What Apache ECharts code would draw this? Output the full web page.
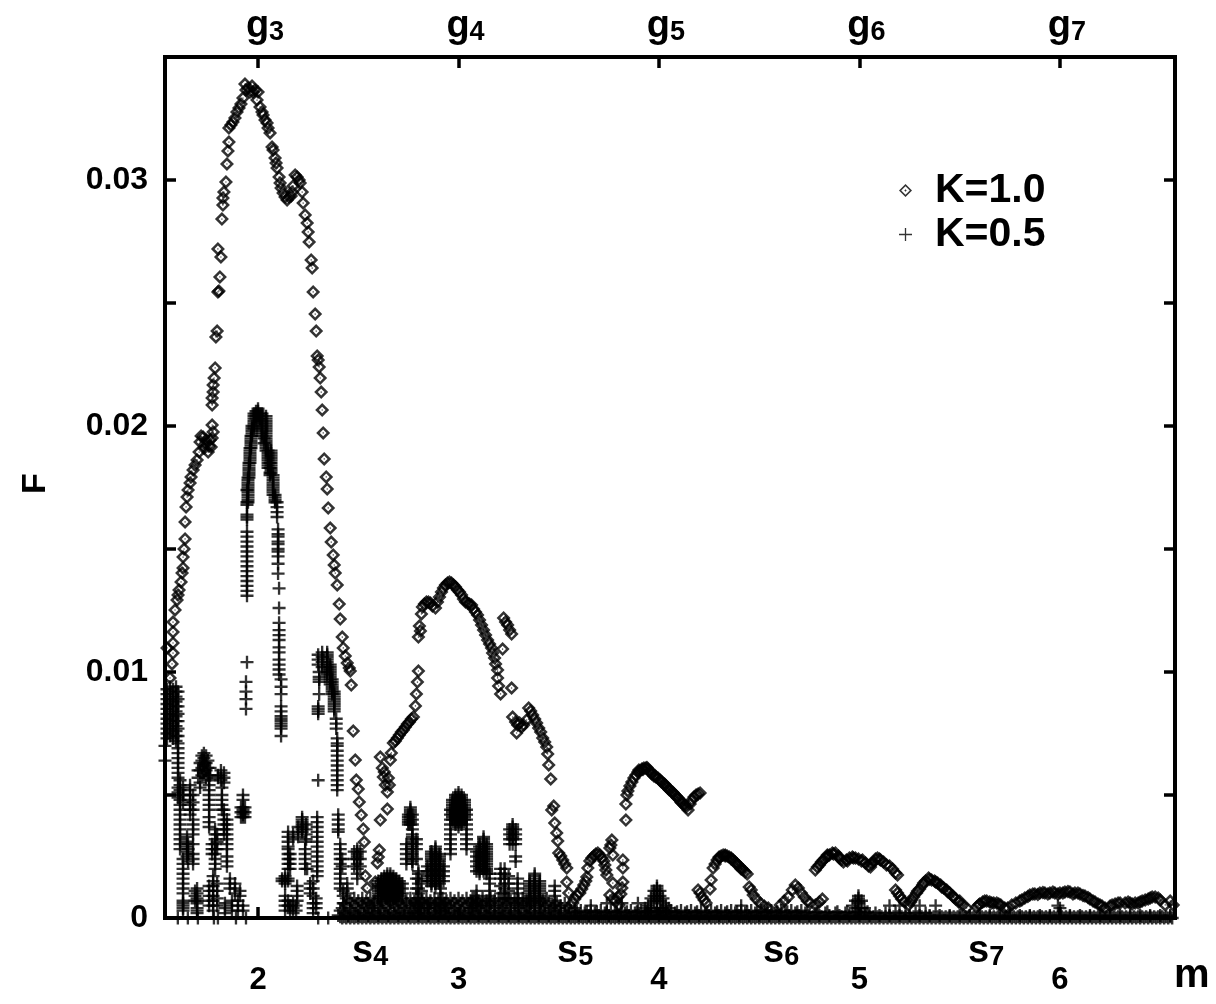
<!DOCTYPE html>
<html>
<head>
<meta charset="utf-8">
<script src="https://cdn.jsdelivr.net/npm/echarts@6/dist/echarts.min.js"></script>
<style>
  html, body { margin: 0; background: #fff; }
  #chart { width: 1216px; height: 1004px; }
</style>
</head>
<body>
<div id="chart"></div>
<script>
// tick positions
const mTicks = [2, 3, 4, 5, 6];
const gNames = ['3', '4', '5', '6', '7'];
const fMinorTicks = [0, 0.005, 0.01, 0.015, 0.02, 0.025, 0.03, 0.035];
const fLabels = [0, 0.01, 0.02, 0.03];

// K=1.0 as [m, F]
const diamondsPeak2 = [[1.546,.01098],[1.561,.00976],[1.571,.01033],[1.576,.01077],[1.576,.01118],[1.576,.01163],[1.576,.01203],[1.586,.01252],[1.596,.01293],[1.601,.01313],[1.606,.01333],[1.616,.01366],[1.621,.01402],[1.626,.01423],[1.626,.01467],[1.631,.015],[1.636,.01541],[1.636,.0161],[1.641,.01671],[1.646,.01711],[1.651,.0174],[1.661,.01768],[1.666,.01793],[1.676,.01821],[1.686,.01841],[1.696,.01862],[1.706,.01894],[1.711,.01935],[1.716,.01959],[1.726,.01955],[1.731,.0191],[1.736,.01927],[1.741,.01943],[1.751,.01894],[1.756,.01919],[1.761,.01943],[1.766,.01915],[1.771,.01951],[1.776,.01976],[1.771,.02004],[1.771,.02085],[1.771,.02114],[1.776,.02138],[1.776,.02167],[1.781,.02195],[1.786,.02236],[1.79,.02362],[1.796,.02386],[1.8,.02545],[1.805,.02549],[1.81,.02606],[1.815,.02687],[1.8,.0272],[1.82,.02841],[1.825,.02898],[1.825,.02927],[1.83,.02951],[1.84,.02992],[1.845,.03065],[1.85,.03118],[1.855,.03154],[1.855,.03211],[1.865,.03224],[1.875,.03236],[1.885,.03252],[1.895,.03276],[1.905,.03293],[1.915,.03309],[1.925,.03333],[1.935,.0339],[1.94,.03366],[1.95,.03374],[1.96,.03358],[1.97,.03382],[1.975,.03358],[1.985,.03366],[1.995,.03325],[2,.03358],[2.01,.03297],[2.02,.03276],[2.025,.03264],[2.035,.03244],[2.045,.03232],[2.05,.03211],[2.06,.03191],[2.07,.03134],[2.075,.03122],[2.085,.03089],[2.09,.03069],[2.095,.03049],[2.105,.03012],[2.11,.02988],[2.115,.02967],[2.125,.02947],[2.135,.02931],[2.145,.02919],[2.155,.02931],[2.165,.02935],[2.17,.02951],[2.175,.02976],[2.185,.0302],[2.195,.03012],[2.205,.03],[2.21,.02988],[2.22,.02951],[2.225,.02906],[2.235,.02858],[2.245,.02825],[2.25,.02789],[2.255,.02748],[2.265,.02675],[2.27,.02642],[2.275,.02545],[2.285,.02455],[2.29,.02386],[2.295,.02285],[2.3,.02268],[2.305,.0224],[2.31,.02195],[2.315,.02138],[2.32,.02065],[2.325,.01972],[2.33,.01866],[2.34,.01793],[2.345,.01744],[2.35,.01667],[2.36,.01585],[2.365,.01528],[2.375,.01476],[2.38,.01435],[2.385,.01402],[2.395,.01354],[2.405,.01276],[2.41,.01215],[2.42,.01142],[2.425,.01098],[2.435,.01065],[2.445,.01037],[2.455,.01016],[2.46,.01004],[2.465,.00947],[2.475,.0076],[2.485,.00642],[2.49,.00561],[2.5,.00524],[2.505,.00472],[2.515,.00419],[2.525,.00362],[2.53,.00309],[2.535,.00171],[2.545,.00122],[2.585,.00146]];
const diamondsPeak3 = [[2.61,.00398],[2.645,.00443],[2.605,.00276],[2.595,.00224],[2.6,.00248],[2.61,.00654],[2.62,.0061],[2.625,.00573],[2.635,.00541],[2.645,.00512],[2.63,.00593],[2.65,.00569],[2.655,.00541],[2.66,.00642],[2.665,.00671],[2.675,.00711],[2.685,.0072],[2.695,.00732],[2.705,.00744],[2.715,.00756],[2.725,.00764],[2.735,.00776],[2.745,.00789],[2.755,.00797],[2.765,.00809],[2.775,.00817],[2.785,.00862],[2.79,.00911],[2.795,.00959],[2.8,.01004],[2.8,.01142],[2.805,.01187],[2.81,.01167],[2.815,.01236],[2.82,.01264],[2.83,.01276],[2.84,.01285],[2.85,.01285],[2.86,.0128],[2.87,.01268],[2.885,.0126],[2.895,.01285],[2.905,.01305],[2.915,.01325],[2.925,.01341],[2.935,.01354],[2.945,.01362],[2.955,.01366],[2.965,.01362],[2.975,.01354],[2.985,.01346],[2.995,.01333],[3.005,.01325],[3.015,.01313],[3.025,.01297],[3.035,.01285],[3.045,.0128],[3.055,.01276],[3.065,.01272],[3.075,.01256],[3.085,.01244],[3.095,.01232],[3.105,.01211],[3.115,.01191],[3.125,.01171],[3.135,.0115],[3.145,.0113],[3.155,.01114],[3.165,.01098],[3.17,.01077],[3.18,.01057],[3.185,.01033],[3.195,.01008],[3.195,.00976],[3.2,.00943],[3.21,.00911],[3.22,.01093],[3.225,.0122],[3.235,.01203],[3.245,.01191],[3.255,.01171],[3.265,.01154],[3.265,.00935],[3.27,.00817],[3.29,.00752],[3.285,.00797],[3.295,.00785],[3.305,.00793],[3.315,.00776],[3.325,.00785],[3.34,.00805],[3.35,.00854],[3.36,.00841],[3.37,.00825],[3.38,.00809],[3.39,.00793],[3.4,.00772],[3.41,.00756],[3.42,.00732],[3.43,.00715],[3.44,.00695],[3.445,.00667],[3.45,.00622],[3.46,.00565],[3.475,.00455],[3.465,.00439],[3.48,.00386],[3.49,.00346],[3.495,.00313],[3.5,.00264],[3.51,.00252],[3.52,.00236],[3.53,.0022],[3.54,.00203],[3.54,.00146],[3.55,.00102]];
const diamondsPeak4 = [[3.57,.00061],[3.58,.00077],[3.59,.00093],[3.605,.00102],[3.615,.00118],[3.625,.00134],[3.635,.0015],[3.64,.00167],[3.645,.00203],[3.655,.00232],[3.665,.00244],[3.675,.00252],[3.685,.0026],[3.695,.00264],[3.705,.00256],[3.715,.00244],[3.725,.00232],[3.73,.00215],[3.735,.00195],[3.74,.00175],[3.765,.00317],[3.755,.00285],[3.76,.00297],[3.77,.00256],[3.77,.00142],[3.82,.00236],[3.82,.00203],[3.82,.00146],[3.815,.00122],[3.795,.00085],[3.755,.00093],[3.77,.00077],[3.785,.00069],[3.8,.00053],[3.81,.00098],[3.835,.00398],[3.835,.00463],[3.84,.005],[3.845,.00516],[3.855,.00537],[3.865,.00553],[3.875,.00569],[3.885,.00581],[3.895,.00593],[3.905,.00598],[3.915,.00606],[3.925,.0061],[3.935,.0061],[3.945,.00606],[3.955,.00598],[3.965,.00585],[3.975,.00577],[3.985,.00573],[3.995,.00569],[4.005,.00561],[4.015,.00553],[4.025,.00545],[4.035,.00537],[4.045,.00528],[4.055,.0052],[4.065,.00512],[4.075,.00504],[4.085,.00496],[4.095,.00488],[4.105,.0048],[4.115,.00467],[4.125,.00459],[4.135,.00451],[4.145,.00439],[4.155,.00463],[4.165,.0048],[4.175,.00492],[4.185,.005],[4.195,.00504],[4.205,.00508]];
const diamondsTail = [[4.195,.00114],[4.205,.00102],[4.215,.00085],[4.225,.00073],[4.235,.00061],[4.255,.00118],[4.26,.00154],[4.27,.00203],[4.28,.0022],[4.29,.00236],[4.3,.00244],[4.31,.00252],[4.32,.00256],[4.33,.00256],[4.34,.00252],[4.35,.00248],[4.36,.00244],[4.37,.00236],[4.38,.00228],[4.39,.0022],[4.4,.00211],[4.41,.00203],[4.42,.00195],[4.43,.00187],[4.44,.00179],[4.45,.00126],[4.46,.00114],[4.47,.00093],[4.485,.00077],[4.505,.00061],[4.525,.00049],[4.545,.00041],[4.605,.00053],[4.625,.00069],[4.645,.00085],[4.665,.00114],[4.68,.00134],[4.695,.00122],[4.71,.00102],[4.725,.00085],[4.74,.00069],[4.755,.00061],[4.78,.00053],[4.8,.00065],[4.815,.00077],[4.78,.00195],[4.79,.00207],[4.8,.00215],[4.81,.00228],[4.82,.00236],[4.83,.00244],[4.84,.00252],[4.85,.00256],[4.865,.00264],[4.88,.00264],[4.895,.00252],[4.91,.00236],[4.92,.00228],[4.935,.00236],[4.95,.00244],[4.965,.00248],[4.98,.00244],[4.995,.0024],[5.015,.00236],[5.03,.00224],[5.045,.00211],[5.055,.00207],[5.07,.00228],[5.08,.0024],[5.09,.00244],[5.105,.00236],[5.12,.00228],[5.135,.00215],[5.15,.00211],[5.165,.00199],[5.18,.00183],[5.19,.00175],[5.18,.00114],[5.19,.00102],[5.2,.00089],[5.21,.00077],[5.225,.00065],[5.245,.00053],[5.255,.00065],[5.27,.00085],[5.285,.00102],[5.3,.00118],[5.315,.00134],[5.33,.0015],[5.345,.00163],[5.36,.00154],[5.375,.0015],[5.39,.00142],[5.405,.00134],[5.42,.00122],[5.435,.00114],[5.45,.00102],[5.465,.00089],[5.48,.00077],[5.495,.00065],[5.515,.00053],[5.535,.00041],[5.585,.00045],[5.6,.00057],[5.615,.00065],[5.635,.00069],[5.65,.00065],[5.67,.00061],[5.685,.00061],[5.705,.00053],[5.725,.00041],[5.74,.00041],[5.76,.00053],[5.78,.00061],[5.8,.00069],[5.825,.00081],[5.85,.00093],[5.875,.00098],[5.9,.00102],[5.925,.00102],[5.95,.00102],[5.975,.00102],[6,.00102],[6.025,.00106],[6.05,.00106],[6.075,.00102],[6.1,.00098],[6.125,.00089],[6.15,.00077],[6.175,.00065],[6.2,.00053],[6.225,.00041],[6.25,.00049],[6.275,.00057],[6.3,.00061],[6.325,.00061],[6.35,.00061],[6.375,.00061],[6.4,.00065],[6.425,.00073],[6.45,.00081],[6.475,.00085],[6.5,.00073],[6.525,.00053],[6.55,.00069],[6.565,.00053]];
const diamondsBandFill = [[5.595,.00053],[5.625,.00069],[5.66,.00061],[5.695,.00057],[5.81,.00073],[5.84,.00087],[5.865,.00098],[5.89,.00096],[5.915,.00104],[5.94,.00098],[5.965,.00106],[5.99,.00098],[6.015,.00102],[6.04,.00108],[6.065,.00098],[6.09,.00102],[6.115,.00091],[6.14,.00083],[6.165,.00069],[6.19,.00057],[6.21,.00049],[6.26,.00053],[6.29,.00061],[6.34,.00065],[6.36,.00057],[6.39,.00061],[6.41,.00069],[6.44,.00077],[6.46,.00085],[6.49,.00081],[5.5,.00069],[5.47,.00085],[5.44,.00107],[5.41,.00126],[5.38,.00146],[5.35,.00158],[5.32,.00142],[5.29,.00110],[5.26,.00073],[3.9,.00602],[3.92,.00604],[3.94,.00612],[3.96,.00590],[3.98,.00579],[4.01,.00555],[4.03,.00543],[4.05,.00522],[4.07,.00510],[4.09,.00490],[4.11,.00471],[4.13,.00457],[4.3,.00248],[4.33,.00252],[4.36,.00240],[4.39,.00216],[4.41,.00199],[4.84,.00256],[4.87,.00260],[4.9,.00244],[4.94,.00232],[4.97,.00244],[5.01,.00232],[5.06,.00220],[5.1,.00240]];

// K=0.5, stacks of marks at nearly one m: [m, [F, F, ...]]
const plusLeft = [
  [1.536,[.0070,.0064]],
  [1.546,[.0093,.0091,.0089,.0087,.0085,.0083,.0081,.0079,.0077,.0075,.0073]],
  [1.561,[.0094,.0092,.0090,.0088,.0086,.0084,.0082,.0080,.0078,.0076,.0074]],
  [1.576,[.0093,.0091,.0089,.0087,.0085,.0083,.0081,.0079,.0077,.0075,.0073]],
  [1.591,[.0094,.0092,.0090,.0088,.0086,.0084,.0082,.0080,.0078,.0076,.0074,.0072]],
  [1.601,[.0092,.0089,.0086,.0083,.0080,.0077,.0074,.0071,.0069,.0067,.0065,.0063,.0061,.0059,.0057,.0053,.0051,.0049]],
  [1.611,[.0056,.0054,.0052,.0050,.0048,.0046,.0044,.0042,.0040,.0038,.0036,.0034,.0032,.0030,.0028]],
  [1.626,[.0053,.0050,.0047,.0024,.0022,.0020,.0018,.0016,.0014,.0012,.0010,.0007,.0006,.0005,.0004,.0003]],
  [1.646,[.0033,.0031,.0029,.0027,.0025]],
  [1.661,[.0054,.0052,.0050,.0048,.0046,.0044,.0042]],
  [1.676,[.0050,.0047,.0044,.0040,.0038,.0036,.0034,.0030,.0026,.0024,.0022]],
  [1.651,[.0030,.0028,.0026,.0023]],
  [1.686,[.0011,.0009,.0007]],
  [1.696,[.0012,.0010,.0008,.0007,.0006,.0004,.0003,.0002]],
  [1.701,[.0060,.0057]],
  [1.711,[.0063,.0060,.0055,.0053]],
  [1.72,[.0066,.0064,.0061,.0058]],
  [1.73,[.0067,.0065,.0063,.0062,.0060,.0059]],
  [1.741,[.0066,.0063,.0060,.0057]],
  [1.75,[.0064,.0061,.0058]],
  [1.756,[.0056,.0054,.0052,.0050,.0048,.0046,.0044,.0041,.0039,.0037,.0013,.0011,.0009,.0007,.0005]],
  [1.761,[.0061,.0058]],
  [1.771,[.0030,.0028,.0026]],
  [1.776,[.0017,.0015,.0013,.0011,.0009,.0007,.0005,.0003]],
  [1.786,[.0036,.0034,.0032,.0030,.0028,.0026,.0024,.0022,.0020]],
  [1.796,[.0034,.0031,.0028,.0014,.0011,.0008,.0005]],
  [1.8,[.0058,.0057]],
  [1.815,[.0060,.0058,.0056]],
  [1.82,[.0053,.0050,.0048,.0046,.0044]],
  [1.83,[.0059,.0057,.0055,.0044,.0042,.0040,.0038,.0036,.0034]],
  [1.835,[.0006,.0004,.0002]],
  [1.845,[.0040,.0038,.0036,.0034,.0032,.0030,.0028,.0025,.0023,.0021]],
  [1.86,[.0016,.0014,.0012]],
  [1.87,[.0007,.0005,.0003]],
  [1.885,[.0014,.0012,.0010]],
  [1.9,[.0007,.0005,.0003]],
  [1.91,[.0011,.0009]],
  [1.915,[.0045,.0043,.0041]],
  [1.925,[.0050,.0048,.0045,.0044,.0043,.0042,.0041,.0005,.0003]],
  [1.935,[.0045,.0043,.0041]]
];
const plusPeak2 = [
  [1.94,[.0096,.0092,.0089,.0085]],
  [1.945,[.0174,.0169,.0168,.0164,.0163,.0162,.0157,.0155,.0153,.0151,.0149,.0147,.0145,.0143,.0141,.0139,.0137,.0135,.0133,.0131,.0104]],
  [1.95,[.0179,.0178,.0177,.0176,.0175,.0174,.0173,.0172,.0171,.0170,.0169]],
  [1.955,[.0185,.0184,.0183,.0182,.0181,.0180,.0179]],
  [1.96,[.0191,.0190,.0189,.0188,.0187,.0186,.0185]],
  [1.965,[.0196,.0195,.0194,.0193,.0192,.0191]],
  [1.97,[.0200,.0199,.0198,.0197,.0196]],
  [1.98,[.0205,.0204,.0203,.0202,.0201,.0200,.0199]],
  [1.99,[.0206,.0205,.0204,.0203]],
  [2,[.0207,.0206,.0205,.0204]],
  [2.01,[.0205,.0203]],
  [2.02,[.0205,.0204,.0203,.0202,.0201,.0200,.0199,.0198,.0197,.0196]],
  [2.03,[.0195,.0193]],
  [2.04,[.0204,.0203,.0202,.0201,.0200,.0199,.0198,.0197,.0196,.0195,.0194,.0193,.0192,.0191,.0190]],
  [2.05,[.0190,.0189,.0188,.0187,.0186,.0185,.0184,.0183]],
  [2.06,[.0185,.0183,.0181,.0180]],
  [2.065,[.0190,.0189,.0188,.0187,.0186,.0185,.0184,.0183,.0182,.0181]],
  [2.075,[.0180,.0179,.0178,.0177,.0176,.0175,.0174,.0173,.0172]],
  [2.085,[.0172,.0171,.0170,.0169]],
  [2.095,[.0169,.0167,.0165,.0163]],
  [2.1,[.0158,.0156,.0155,.0153,.0152,.0150,.0149,.0147,.0144,.0140]],
  [2.105,[.0134,.0126,.0120,.0117,.0115,.0113,.0110,.0108,.0105,.0103,.0101,.0099]],
  [2.115,[.0097,.0094,.0091,.0086,.0084,.0082,.0081,.0080,.0079,.0078,.0077,.0074]]
];
const plusPeak2Low = [
  [2.12,[.0016,.0015]],
  [2.135,[.0017,.0016,.0015,.0014,.0009,.0007,.0005,.0003]],
  [2.15,[.0035,.0033,.0031,.0029,.0028,.0026,.0024,.0022,.0020,.0016,.0015,.0007,.0005]],
  [2.16,[.0026,.0024,.0022,.0020,.0005,.0003]],
  [2.175,[.0034,.0032,.0006,.0004,.0002]],
  [2.19,[.0005,.0003]],
  [2.195,[.0013,.0011,.0009,.0007]],
  [2.2,[.0037,.0035,.0033]],
  [2.22,[.0041,.0040,.0039,.0038,.0037,.0036,.0035]],
  [2.235,[.0031,.0028,.0026,.0024,.0022,.0020]],
  [2.24,[.0038,.0036,.0034,.0032]],
  [2.245,[.0020]],
  [2.26,[.0014,.0012,.0010]],
  [2.275,[.0015,.0012,.0009,.0006,.0004,.0002]],
  [2.29,[.0008,.0006,.0004]],
  [2.295,[.0041,.0039,.0037,.0035,.0033,.0031,.0029,.0027,.0025,.0023,.0021,.0019,.0017]]
];
const plusPeak3 = [
  [2.3,[.0107,.0105,.0103,.0086,.0085,.0084,.0083,.0056]],
  [2.305,[.0100,.0098,.0097,.0096,.0091]],
  [2.32,[.0108,.0106,.0104,.0102]],
  [2.345,[.0108,.0107,.0106,.0105,.0104,.0103,.0102,.0101,.0100,.0099]],
  [2.36,[.0103,.0102,.0101,.0100,.0099,.0098,.0097,.0096,.0095]],
  [2.37,[.0097,.0096,.0095,.0094,.0093,.0092,.0091]],
  [2.38,[.0092,.0091,.0090,.0089,.0088,.0087,.0086,.0085,.0084]],
  [2.39,[.0081,.0079,.0077]],
  [2.395,[.0073,.0071,.0070,.0068,.0066,.0064,.0062,.0060,.0058,.0056,.0054,.0052]],
  [2.4,[.0042,.0040,.0038,.0036,.0035]],
  [2.41,[.0030,.0028,.0026,.0024,.0022,.0020,.0018,.0016,.0014,.0012]],
  [2.42,[.0024,.0021]],
  [2.425,[.0011,.0009,.0006]],
  [2.445,[.0014,.0012,.0010]],
  [2.48,[.0027,.0024,.0021]],
  [2.495,[.0028,.0027,.0026,.0025,.0024,.0022,.0020,.0018,.0016]],
  [2.51,[.0027,.0024,.0021]],
  [2.6,[.0015,.0014,.0013,.0012,.0011,.0010,.0009]],
  [2.615,[.0016,.0015,.0014,.0013,.0012,.0011,.0010,.0009,.0008]],
  [2.63,[.0017,.0016,.0015,.0014,.0013,.0012,.0011,.0010,.0009]],
  [2.645,[.0018,.0017,.0016,.0015,.0014,.0013,.0012,.0011,.0010,.0009,.0008]],
  [2.66,[.0018,.0017,.0016,.0015,.0014,.0013,.0012,.0011,.0010,.0009,.0008]],
  [2.675,[.0017,.0016,.0015,.0014,.0013,.0012,.0011,.0010,.0009,.0008,.0007]],
  [2.69,[.0016,.0015,.0014,.0013,.0012,.0011,.0010,.0009,.0008]],
  [2.705,[.0015,.0014,.0013,.0012,.0011,.0010,.0009]],
  [2.72,[.0014,.0012,.0010]],
  [2.74,[.0030,.0028,.0026,.0024,.0022]],
  [2.75,[.0042,.0041,.0040,.0039,.0038]],
  [2.76,[.0045,.0044,.0043,.0042,.0041,.0040,.0039,.0038]],
  [2.77,[.0042,.0040,.0038,.0036,.0034,.0033,.0032,.0031,.0030,.0029,.0028,.0027,.0026,.0025,.0024,.0023,.0022]],
  [2.79,[.0032,.0030,.0028,.0024,.0016,.0012,.0008,.0005]],
  [2.8,[.0019,.0018,.0016,.0014,.0012,.0010,.0008,.0006,.0004,.0002]],
  [2.815,[.0015,.0011,.0007,.0004]],
  [2.845,[.0021,.0019,.0017,.0015,.0006,.0004]],
  [2.865,[.0027,.0026,.0025,.0024,.0023,.0022,.0021,.0020,.0019,.0018,.0017,.0016,.0015,.0014,.0013]],
  [2.885,[.0029,.0028,.0027,.0026,.0025,.0024,.0023,.0022,.0021,.0020,.0019,.0018,.0017,.0016,.0015,.0014,.0013,.0006,.0004]],
  [2.905,[.0026,.0025,.0024,.0023,.0022,.0021,.0020,.0019,.0018,.0017,.0016,.0015,.0014]],
  [2.91,[.0012,.0010,.0008,.0005,.0003]],
  [2.925,[.0021,.0019,.0017,.0015]],
  [2.935,[.0006,.0004]],
  [2.96,[.0044,.0042,.0040,.0038,.0036,.0034,.0032,.0030,.0028,.0026]],
  [2.97,[.0048,.0047,.0046,.0045,.0044,.0043,.0042,.0041,.0040]],
  [2.985,[.0050,.0049,.0048,.0047,.0046,.0045,.0044,.0043,.0042,.0041,.0040,.0039,.0038]],
  [3,[.0051,.0050,.0049,.0048,.0047,.0046,.0045,.0044,.0043,.0042,.0041,.0040,.0039,.0038,.0037]],
  [3.015,[.0050,.0049,.0048,.0047,.0046,.0045,.0044,.0043,.0042,.0041,.0040,.0039,.0038]],
  [3.03,[.0048,.0047,.0046,.0045,.0044,.0043,.0042,.0041,.0040]],
  [3.04,[.0044,.0042,.0040,.0038,.0036,.0034,.0032,.0030,.0028]],
  [3.07,[.0008,.0006,.0004]],
  [3.09,[.0027,.0025,.0023,.0021,.0019,.0011,.0009,.0007,.0005]],
  [3.105,[.0030,.0029,.0028,.0027,.0026,.0025,.0024,.0023,.0022,.0021,.0020,.0019,.0018]],
  [3.125,[.0033,.0032,.0031,.0030,.0029,.0028,.0027,.0026,.0025,.0024,.0023,.0022,.0021,.0020,.0019]],
  [3.14,[.0030,.0029,.0028,.0027,.0026,.0025,.0024,.0023,.0022,.0021,.0020,.0019,.0018]],
  [3.155,[.0018,.0016,.0014,.0011,.0009,.0007,.0005]],
  [3.21,[.0020,.0018,.0016,.0013,.0010]],
  [3.23,[.0020,.0018,.0016,.0014,.0012,.0010,.0008]],
  [3.25,[.0017,.0014,.0011,.0008]],
  [3.255,[.0036,.0034,.0032,.0030]],
  [3.27,[.0038,.0037,.0036,.0035,.0034,.0033,.0032,.0030]],
  [3.285,[.0036,.0034,.0032,.0030,.0025,.0023]],
  [3.295,[.0016,.0014,.0012,.0010,.0008,.0006]],
  [3.355,[.0015,.0014,.0013,.0012,.0011,.0010,.0009,.0008,.0007,.0005]],
  [3.38,[.0018,.0017,.0016,.0015,.0014,.0013,.0012,.0011,.0010,.0009,.0008,.0006]],
  [3.405,[.0015,.0014,.0013,.0012,.0011,.0010,.0009,.0008,.0007,.0005]],
  [3.48,[.0013,.0011,.0009,.0007,.0005]]
];
const plusPeak456 = [
  [3.93,[.0004]],[3.945,[.0005,.0003]],[3.96,[.0008,.0006,.0004]],[3.975,[.0011,.0009,.0007]],[3.99,[.0013,.0012,.0011,.0010,.0009,.0008,.0007,.0004]],
  [4.005,[.0011,.0009,.0007]],[4.02,[.0008,.0006,.0004]],[4.035,[.0005,.0003]],[4.05,[.0004]],
  [4.965,[.0005]],[4.98,[.0007,.0004]],[4.995,[.0009,.0008,.0007,.0006,.0004]],[5.01,[.0007,.0004]],[5.025,[.0004]],
  [4.41,[.0005]],[5.99,[.0005]],[6.0,[.0004]],[3.66,[.0005]],[3.74,[.0006]],[3.815,[.0006]],[3.895,[.0006]],
  [5.15,[.0005]],[5.2,[.0005]],[5.3,[.0005]],[5.38,[.0005]]
];

// K=0.5 near F = 0, one row per F value: [F, [m, m, ...]]
const plusBaseline = [
  [.0008,[2.44,2.48,2.52,2.56,2.6,2.64,2.68,2.72,2.76,2.8,2.84,2.88,2.92,2.96,3,3.04,3.08,3.12,3.16,3.2,3.24,3.28,3.32,3.36,3.4,3.44]],
  [.0007,[2.46,2.5,2.54,2.58,2.62,2.66,2.7,2.74,2.78,2.82,2.86,2.9,2.94,2.98,3.02,3.06,3.1,3.14,3.18,3.22,3.26,3.3,3.34,3.38,3.42]],
  [.0006,[2.43,2.47,2.52,2.55,2.58,2.62,2.66,2.7,2.74,2.78,2.83,2.86,2.9,2.93,2.97,3.01,3.05,3.09,3.12,3.16,3.2,3.24,3.28,3.32,3.36,3.41,3.45,3.49,3.53]],
  [.0005,[2.44,2.49,2.53,2.57,2.6,2.64,2.68,2.72,2.76,2.8,2.85,2.88,2.92,2.95,2.99,3.03,3.07,3.11,3.14,3.18,3.22,3.26,3.3,3.34,3.38,3.43,3.47,3.51,3.55]],
  [.0004,[2.42,2.46,2.5,2.54,2.57,2.61,2.65,2.69,2.73,2.77,2.81,2.85,2.89,2.94,2.98,3.02,3.06,3.1,3.14,3.18,3.22,3.26,3.3,3.34,3.38,3.42,3.46,3.5,3.54,3.58]],
  [.0003,[2.41,2.46,2.51,2.56,2.61,2.66,2.71,2.76,2.81,2.86,2.91,2.96,3.01,3.06,3.11,3.16,3.21,3.26,3.31,3.36,3.41,3.46,3.51,3.56,3.61,3.66,3.71,3.76,3.81,3.86,3.91,3.96,4.01,4.06,4.11,4.16,4.21,4.26,4.31,4.36,4.41,4.46,4.51,4.56,4.61,4.66,4.71]],
  [.00025,[3.59,3.64,3.69,3.74,3.79,3.84,3.89,3.94,3.99,4.04,4.09,4.14,4.19,4.24,4.29,4.34,4.39,4.44,4.49,4.54,4.59,4.64,4.69,4.74,4.79,4.84,4.89,4.94,4.99,5.04]],
  [.0002,[2.43,2.48,2.53,2.58,2.63,2.68,2.73,2.78,2.83,2.88,2.93,2.98,3.03,3.08,3.13,3.18,3.23,3.28,3.33,3.38,3.43,3.48,3.53,3.58,3.63,3.68,3.73,3.78,3.83,3.88,3.93,3.98,4.03,4.08,4.13,4.18,4.23,4.28,4.33,4.38,4.43,4.48,4.53,4.58,4.63,4.68,4.73,4.78,4.83,4.88,4.93,4.98,5.03,5.08,5.13,5.18,5.23,5.28,5.33]],
  [.0001,[2.4,2.45,2.5,2.55,2.6,2.65,2.7,2.75,2.8,2.85,2.9,2.95,3,3.05,3.1,3.15,3.2,3.25,3.3,3.35,3.4,3.45,3.5,3.55,3.6,3.65,3.7,3.75,3.8,3.85,3.9,3.95,4,4.05,4.1,4.15,4.2,4.25,4.3,4.35,4.4,4.45,4.5,4.55,4.6,4.65,4.7,4.75,4.8,4.85,4.9,4.95,5,5.05,5.1,5.15,5.2,5.25,5.3,5.35,5.4,5.45,5.5,5.55,5.6,5.65,5.7,5.75,5.8,5.85,5.9,5.95,6,6.05,6.1,6.15,6.2,6.25,6.3,6.35,6.4,6.45,6.5,6.55]],
  [.00005,[2.41,2.43,2.45,2.47,2.49,2.51,2.53,2.55,2.57,2.59,2.61,2.63,2.65,2.67,2.69,2.71,2.73,2.75,2.77,2.79,2.81,2.83,2.85,2.87,2.89,2.91,2.93,2.95,2.97,2.99,3.01,3.03,3.05,3.07,3.09,3.11,3.13,3.15,3.17,3.19,3.21,3.23,3.25,3.27,3.29,3.31,3.33,3.35,3.37,3.39,3.41,3.43,3.45,3.47,3.49,3.51,3.53,3.55,3.57,3.59,3.61,3.63,3.65,3.67,3.69,3.71,3.73,3.75,3.77,3.79,3.81,3.83,3.85,3.87,3.89,3.91,3.93,3.95,3.97,3.99,4.01,4.03,4.05,4.07,4.09,4.11,4.13,4.15,4.17,4.19,4.21,4.23,4.25,4.27,4.29,4.31,4.33,4.35,4.37,4.39,4.41,4.43,4.45,4.47,4.49,4.51,4.53,4.55,4.57,4.59,4.61,4.63,4.65,4.67,4.69,4.71,4.73,4.75,4.77,4.79,4.81,4.83,4.85,4.87,4.89,4.91,4.93,4.95,4.97,4.99,5.01,5.03,5.05,5.07,5.09,5.11,5.13,5.15,5.17,5.19,5.21,5.23,5.25,5.27,5.29,5.31,5.33,5.35,5.37,5.39,5.41,5.43,5.45,5.47,5.49,5.51,5.53,5.55,5.57,5.59,5.61,5.63,5.65,5.67,5.69,5.71,5.73,5.75,5.77,5.79,5.81,5.83,5.85,5.87,5.89,5.91,5.93,5.95,5.97,5.99,6.01,6.03,6.05,6.07,6.09,6.11,6.13,6.15,6.17,6.19,6.21,6.23,6.25,6.27,6.29,6.31,6.33,6.35,6.37,6.39,6.41,6.43,6.45,6.47,6.49,6.51,6.53,6.55]],
  [0,[1.6,1.65,1.7,1.78,1.8,1.89,1.94,2.3,2.35,2.42,2.44,2.46,2.48,2.5,2.52,2.54,2.56,2.58,2.6,2.62,2.64,2.66,2.68,2.7,2.72,2.74,2.76,2.78,2.8,2.82,2.84,2.86,2.88,2.9,2.92,2.94,2.96,2.98,3,3.02,3.04,3.06,3.08,3.1,3.12,3.14,3.16,3.18,3.2,3.22,3.24,3.26,3.28,3.3,3.32,3.34,3.36,3.38,3.4,3.42,3.44,3.46,3.48,3.5,3.52,3.54,3.56,3.58,3.6,3.62,3.64,3.66,3.68,3.7,3.72,3.74,3.76,3.78,3.8,3.82,3.84,3.86,3.88,3.9,3.92,3.94,3.96,3.98,4,4.02,4.04,4.06,4.08,4.1,4.12,4.14,4.16,4.18,4.2,4.22,4.24,4.26,4.28,4.3,4.32,4.34,4.36,4.38,4.4,4.42,4.44,4.46,4.48,4.5,4.52,4.54,4.56,4.58,4.6,4.62,4.64,4.66,4.68,4.7,4.72,4.74,4.76,4.78,4.8,4.82,4.84,4.86,4.88,4.9,4.92,4.94,4.96,4.98,5,5.02,5.04,5.06,5.08,5.1,5.12,5.14,5.16,5.18,5.2,5.22,5.24,5.26,5.28,5.3,5.32,5.34,5.36,5.38,5.4,5.42,5.44,5.46,5.48,5.5,5.52,5.54,5.56,5.58,5.6,5.62,5.64,5.66,5.68,5.7,5.72,5.74,5.76,5.78,5.8,5.82,5.84,5.86,5.88,5.9,5.92,5.94,5.96,5.98,6,6.02,6.04,6.06,6.08,6.1,6.12,6.14,6.16,6.18,6.2,6.22,6.24,6.26,6.28,6.3,6.32,6.34,6.36,6.38,6.4,6.42,6.44,6.46,6.48,6.5,6.52,6.54,6.56]]
];

const DIAMOND = 'path://M50 0L100 50L50 100L0 50ZM50 26L26 50L50 74L74 50ZM50 44L56 50L50 56L44 50Z';
const DIAMOND_THIN = 'path://M50 0L100 50L50 100L0 50ZM50 17L17 50L50 83L83 50ZM50 41L59 50L50 59L41 50Z';
const PLUS = 'path://M41 0H59V41H100V59H59V100H41V59H0V41H41Z';
const PLUS_THIN = 'path://M45 0H55V45H100V55H55V100H45V55H0V45H45Z';
const FONT = '"Liberation Sans", Arial, sans-serif';

const fromColumns = cols => cols.flatMap(([m, fs]) => fs.map(f => [m, f]));
const fromRows = rows => rows.flatMap(([f, ms]) => ms.map(m => [m, f]));

const k10 = [...diamondsPeak2, ...diamondsPeak3, ...diamondsPeak4, ...diamondsTail, ...diamondsBandFill];
const k05 = [
  ...fromColumns(plusLeft), ...fromColumns(plusPeak2), ...fromColumns(plusPeak2Low),
  ...fromColumns(plusPeak3), ...fromColumns(plusPeak456), ...fromRows(plusBaseline)
];

const axisLine = { onZero: false, lineStyle: { color: '#000', width: 4, cap: 'square' } };
const axisTick = values => ({ inside: true, length: 11, lineStyle: { color: '#000', width: 3.5 }, customValues: values });
const labelFont = { color: '#000', fontFamily: FONT, fontWeight: 'bold' };
const subLabel = { ...labelFont, fontSize: 27, verticalAlign: 'bottom', padding: [12, 0, 0, 0] };

const chart = echarts.init(document.getElementById('chart'), null, { renderer: 'canvas' });
chart.setOption({
  animation: false,
  backgroundColor: '#fff',
  grid: { left: 165, right: 41, top: 57, bottom: 86, containLabel: false },
  legend: {
    left: 894, top: 165, orient: 'vertical', itemWidth: 13, itemHeight: 13, itemGap: 3, selectedMode: false,
    textStyle: { ...labelFont, fontSize: 41, padding: [0, 0, 0, 18] },
    data: [{ name: 'K=1.0', icon: DIAMOND_THIN }, { name: 'K=0.5', icon: PLUS_THIN }]
  },
  xAxis: [
    {
      type: 'value', position: 'bottom', min: 1.536, max: 6.574, splitLine: { show: false },
      axisLine, axisTick: axisTick(mTicks),
      axisLabel: { ...labelFont, fontSize: 31, margin: 47, customValues: mTicks, formatter: v => String(v) }
    },
    {
      type: 'value', position: 'top', min: 1.536, max: 6.574, splitLine: { show: false },
      axisLine, axisTick: axisTick(mTicks),
      axisLabel: {
        ...labelFont, margin: 11, padding: [0, 0, 0, 14], customValues: mTicks,
        formatter: v => '{g|g}{sub|' + gNames[mTicks.indexOf(v)] + '}',
        rich: { g: { ...labelFont, fontSize: 38 }, sub: subLabel }
      }
    }
  ],
  yAxis: [
    {
      type: 'value', position: 'left', min: 0, max: 0.035, splitLine: { show: false },
      axisLine, axisTick: axisTick(fMinorTicks),
      axisLabel: {
        ...labelFont, fontSize: 32, margin: 17, padding: [5, 0, 0, 0], customValues: fLabels,
        formatter: v => (v === 0 ? '0' : v.toFixed(2))
      },
      name: 'F', nameLocation: 'middle', nameRotate: 90, nameGap: 112,
      nameTextStyle: { ...labelFont, fontSize: 34, padding: [0, 0, 0, 8] }
    },
    {
      type: 'value', position: 'right', min: 0, max: 0.035, splitLine: { show: false },
      axisLine, axisTick: axisTick(fMinorTicks), axisLabel: { show: false }
    }
  ],
  series: [
    { name: 'K=1.0', type: 'scatter', data: k10, symbol: DIAMOND, symbolSize: 14, clip: false, itemStyle: { color: '#000' }, silent: true },
    { name: 'K=0.5', type: 'scatter', data: k05, symbol: PLUS, symbolSize: 13, clip: false, itemStyle: { color: '#000' }, silent: true }
  ],
  graphic: [
    ['4', 352, 955], ['5', 557, 955], ['6', 763, 955], ['7', 968, 955]
  ].map(([sub, x, y]) => ({
    type: 'text', left: x, top: y - 22,
    style: {
      text: '{s|s}{sub|' + sub + '}',
      rich: { s: { ...labelFont, fontSize: 38 }, sub: subLabel }
    }
  })).concat([{
    type: 'text', left: 1174, top: 956,
    style: { text: 'm', fill: '#000', font: 'bold 40px ' + FONT }
  }])
});
</script>
</body>
</html>
